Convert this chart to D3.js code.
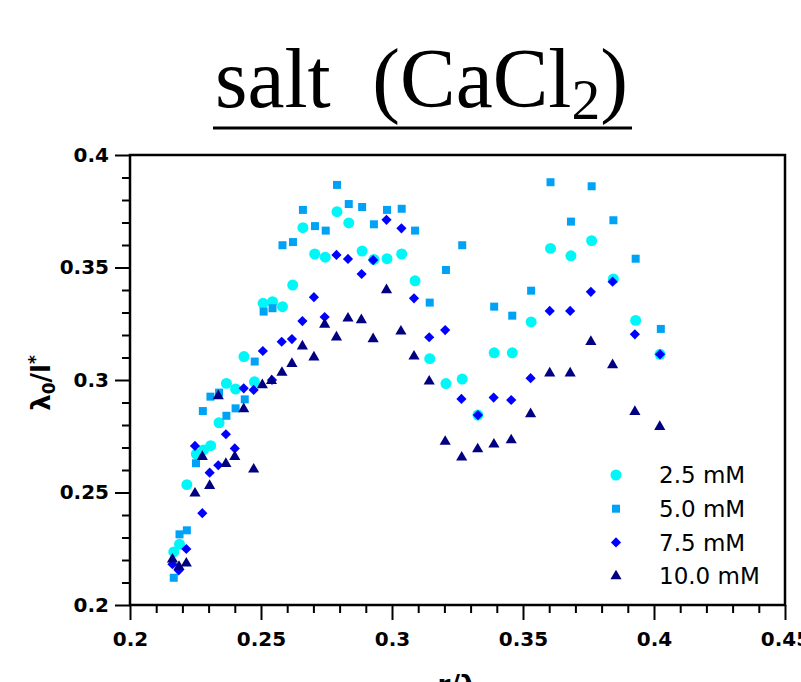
<!DOCTYPE html>
<html>
<head>
<meta charset="utf-8">
<script src="https://cdn.jsdelivr.net/npm/d3@7"></script>
<style>
  body { margin: 0; background: #fff; }
  .tick text { font-family: "DejaVu Sans", sans-serif; font-weight: bold; font-size: 20px; fill: #000; }
  .legend text { font-family: "DejaVu Sans", sans-serif; font-size: 23px; fill: #000; }
</style>
</head>
<body>
<svg id="chart" width="801" height="682"></svg>
<script>
// r/lambda and lambda0/l* per CaCl2 concentration
var r25 = [0.2167,0.2189,0.2217,0.2253,0.2281,0.2308,0.2340,0.2368,0.2403,0.2435,0.2475,0.2508,0.2544,0.2582,0.2621,0.2660,0.2705,0.2745,0.2790,0.2835,0.2886,0.2931,0.2981,0.3037,0.3088,0.3144,0.3206,0.3268,0.3328,0.3390,0.3459,0.3531,0.3605,0.3683,0.3762,0.3845,0.3930,0.4023];
var l25 = [0.2236,0.2270,0.2535,0.2671,0.2689,0.2708,0.2810,0.2985,0.2960,0.3104,0.2992,0.3341,0.3348,0.3326,0.3422,0.3677,0.3560,0.3546,0.3748,0.3698,0.3573,0.3536,0.3539,0.3560,0.3441,0.3095,0.2984,0.3004,0.2844,0.3121,0.3121,0.3258,0.3585,0.3552,0.3619,0.3449,0.3265,0.3114];

var r50 = [0.2167,0.2189,0.2217,0.2252,0.2278,0.2307,0.2340,0.2368,0.2403,0.2438,0.2476,0.2510,0.2544,0.2582,0.2622,0.2660,0.2706,0.2747,0.2790,0.2835,0.2886,0.2931,0.2981,0.3037,0.3088,0.3144,0.3206,0.3268,0.3390,0.3459,0.3531,0.3605,0.3683,0.3762,0.3845,0.3930,0.4026];
var l50 = [0.2121,0.2314,0.2332,0.2630,0.2862,0.2926,0.2944,0.2841,0.2874,0.2914,0.3082,0.3304,0.3319,0.3599,0.3613,0.3756,0.3684,0.3664,0.3867,0.3782,0.3769,0.3692,0.3756,0.3761,0.3664,0.3344,0.3489,0.3599,0.3326,0.3286,0.3397,0.3879,0.3704,0.3861,0.3710,0.3539,0.3227];

var r75 = [0.2162,0.2186,0.2215,0.2248,0.2276,0.2304,0.2337,0.2366,0.2400,0.2434,0.2472,0.2507,0.2542,0.2579,0.2618,0.2658,0.2702,0.2743,0.2788,0.2832,0.2884,0.2928,0.2979,0.3036,0.3084,0.3142,0.3203,0.3265,0.3328,0.3388,0.3455,0.3529,0.3602,0.3680,0.3759,0.3842,0.3927,0.4023];
var l75 = [0.2181,0.2154,0.2249,0.2707,0.2408,0.2588,0.2621,0.2759,0.2696,0.2963,0.2956,0.3129,0.3000,0.3170,0.3182,0.3262,0.3368,0.3280,0.3556,0.3538,0.3471,0.3533,0.3712,0.3674,0.3363,0.3190,0.3222,0.2916,0.2844,0.2922,0.2911,0.3008,0.3307,0.3307,0.3392,0.3437,0.3203,0.3114];

var r100 = [0.2162,0.2187,0.2215,0.2248,0.2276,0.2304,0.2337,0.2366,0.2400,0.2434,0.2472,0.2505,0.2540,0.2580,0.2618,0.2658,0.2702,0.2743,0.2788,0.2832,0.2883,0.2928,0.2979,0.3034,0.3084,0.3142,0.3203,0.3266,0.3327,0.3389,0.3455,0.3529,0.3602,0.3680,0.3759,0.3842,0.3927,0.4022];
var l100 = [0.2203,0.2170,0.2185,0.2496,0.2659,0.2530,0.2929,0.2628,0.2659,0.2871,0.2603,0.2978,0.2996,0.3033,0.3072,0.3150,0.3101,0.3247,0.3190,0.3274,0.3267,0.3182,0.3400,0.3216,0.3105,0.2994,0.2726,0.2656,0.2693,0.2714,0.2733,0.2849,0.3030,0.3030,0.3170,0.3067,0.2859,0.2792];

var seriesNames = ["2.5 mM", "5.0 mM", "7.5 mM", "10.0 mM"];
var xTicks = ["0.2", "0.25", "0.3", "0.35", "0.4", "0.45"];
var yTicks = ["0.2", "0.25", "0.3", "0.35", "0.4"];

var series = [
  {name: seriesNames[0], xs: r25,  ys: l25,  color: "#00f7f7", type: "circle"},
  {name: seriesNames[1], xs: r50,  ys: l50,  color: "#00a2f5", type: "square"},
  {name: seriesNames[2], xs: r75,  ys: l75,  color: "#0000ff", type: "diamond"},
  {name: seriesNames[3], xs: r100, ys: l100, color: "#000080", type: "triangle"}
];

var svg = d3.select("#chart"),
    margin = {top: 155, right: 16, bottom: 77, left: 130},
    width = +svg.attr("width") - margin.left - margin.right,
    height = +svg.attr("height") - margin.top - margin.bottom;

var x = d3.scaleLinear().domain([0.2, 0.45]).range([0, width]),
    y = d3.scaleLinear().domain([0.2, 0.4]).range([height, 0]);

var g = svg.append("g")
    .attr("transform", "translate(" + margin.left + "," + margin.top + ")");

function symbolPath(type) {
  if (type == "circle") return d3.symbol().type(d3.symbolCircle).size(95)();
  if (type == "square") return d3.symbol().type(d3.symbolSquare).size(64)();
  if (type == "diamond") return d3.symbol().type(d3.symbolSquare).size(52)();
  return d3.symbol().type(d3.symbolTriangle).size(54)();
}
function symbolRot(type) { return type == "diamond" ? " rotate(45)" : ""; }

// minor ticks
var xMinor = d3.range(21, 45).map(function(i) { return i / 100; }).filter(function(v) { return Math.round(v * 100) % 5 != 0; });
var yMinor = d3.range(21, 40).map(function(i) { return i / 100; }).filter(function(v) { return Math.round(v * 100) % 5 != 0; });

g.append("g")
    .attr("transform", "translate(0," + height + ")")
    .call(d3.axisBottom(x).tickValues(xMinor).tickSize(8).tickSizeOuter(0).tickFormat(""))
    .call(function(a) { a.select(".domain").remove(); a.selectAll("line").attr("stroke-width", 2); });

g.append("g")
    .call(d3.axisLeft(y).tickValues(yMinor).tickSize(8).tickSizeOuter(0).tickFormat(""))
    .call(function(a) { a.select(".domain").remove(); a.selectAll("line").attr("stroke-width", 2); });

// major ticks
g.append("g")
    .attr("class", "axis axis--x")
    .attr("transform", "translate(0," + height + ")")
    .call(d3.axisBottom(x).tickValues(xTicks.map(Number)).tickSize(15).tickPadding(12).tickSizeOuter(0)
      .tickFormat(function(d, i) { return xTicks[i]; }))
    .call(function(a) { a.select(".domain").remove(); a.selectAll("line").attr("stroke-width", 2); });

g.append("g")
    .attr("class", "axis axis--y")
    .call(d3.axisLeft(y).tickValues(yTicks.map(Number)).tickSize(15).tickPadding(6).tickSizeOuter(0)
      .tickFormat(function(d, i) { return yTicks[i]; }))
    .call(function(a) { a.select(".domain").remove(); a.selectAll("line").attr("stroke-width", 2); });

// frame
g.append("rect")
    .attr("width", width)
    .attr("height", height)
    .attr("fill", "none")
    .attr("stroke", "#000")
    .attr("stroke-width", 2.5);

// points
series.forEach(function(s) {
  g.append("g").selectAll("path")
    .data(s.xs.map(function(v, i) { return [v, s.ys[i]]; }))
    .enter().append("path")
      .attr("d", symbolPath(s.type))
      .attr("fill", s.color)
      .attr("transform", function(d) { return "translate(" + x(d[0]) + "," + y(d[1]) + ")" + symbolRot(s.type); });
});

// legend
var legend = svg.append("g").attr("class", "legend");
series.forEach(function(s, i) {
  var ly = 475 + i * 33.7;
  legend.append("path")
      .attr("d", symbolPath(s.type))
      .attr("fill", s.color)
      .attr("transform", "translate(616," + ly + ")" + symbolRot(s.type));
  legend.append("text")
      .attr("x", 659)
      .attr("y", ly)
      .attr("dy", "0.36em")
      .text(s.name);
});

// axis titles
var yl = svg.append("text")
    .attr("transform", "translate(50,383) rotate(-90)")
    .attr("text-anchor", "middle")
    .style("font-family", "'DejaVu Sans', sans-serif")
    .style("font-weight", "bold")
    .style("font-size", "26px");
yl.append("tspan").text("λ");
yl.append("tspan").attr("dy", 5).style("font-size", "17px").text("0");
yl.append("tspan").attr("dy", -5).text("/l");
yl.append("tspan").attr("dy", -9).style("font-size", "17px").text("*");

svg.append("text")
    .attr("x", 457)
    .attr("y", 694)
    .attr("text-anchor", "middle")
    .style("font-family", "'DejaVu Sans', sans-serif")
    .style("font-weight", "bold")
    .style("font-size", "26px")
    .text("r/λ");

// title
var title = svg.append("text")
    .attr("x", 0)
    .attr("y", 0)
    .style("font-family", "'Liberation Serif', serif")
    .style("font-size", "84px");
title.append("tspan").text("salt\u2002(CaCl");
title.append("tspan").attr("dy", 12).style("font-size", "58px").text("2");
title.append("tspan").attr("dy", -12).text(")");
var tw = title.node().getComputedTextLength();
var sx = 413 / tw;
title.attr("transform", "translate(215,107) scale(" + sx + ",1)");

svg.append("line")
    .attr("x1", 213).attr("x2", 632)
    .attr("y1", 128).attr("y2", 128)
    .attr("stroke", "#000")
    .attr("stroke-width", 3);
</script>
</body>
</html>
